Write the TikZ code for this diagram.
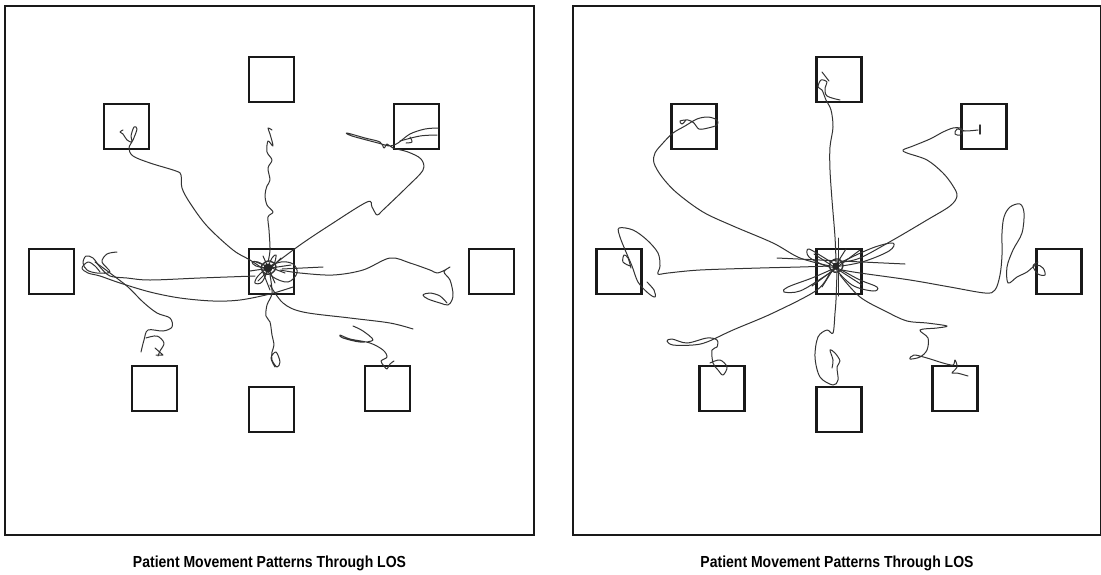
\documentclass[tikz,border=0pt]{standalone}
\usepackage{fontspec}
\setmainfont{Liberation Sans}
\begin{document}
\begin{tikzpicture}[x=1pt,y=-1pt,
  wall/.style={line width=2pt, draw=black!90},
  room/.style={line width=2.2pt, draw=black!90},
  trail/.style={line width=1pt, draw=black!80, line join=round, line cap=round},
  caption/.style={font=\bfseries\fontsize{16}{19}\selectfont, anchor=base}]
\useasboundingbox (0,0) rectangle (1101,574);
\fill[white] (0,0) rectangle (1101,574);

% outer walls of the two floor plans
\draw[wall] (5,6) rectangle (534,535);
\draw[wall] (573,6) rectangle (1100.5,535);

% nine stations per floor plan
\foreach \dx in {0,567.5}{
  \begin{scope}[shift={(\dx,0)}]
    \foreach \p in {(249,57),(104,104),(394,104),(29,249),(249,249),(469,249),(132,366),(249,387),(365,366)}
      \draw[room] \p rectangle +(45,45);
  \end{scope}
}

% ---------------- first floor plan: movement traces ----------------
% to upper-left station
\draw[trail] plot[smooth,tension=0.55] coordinates {(262,268) (250,260) (233,250) (207,226) (190,203) (182,188) (181,175) (176,171) (150,163) (133,156) (129,148) (133,140) (137,129) (134,127) (131,136) (132,142) (127,140) (123,134) (120,132) (123,130)};
% upward, wavering
\draw[trail] plot[smooth,tension=0.55] coordinates {(268,262) (270,250) (269,230) (268,217) (273,212) (267,205) (265,195) (267,186) (270,180) (268,168) (272,160) (267,152) (268,141) (273,146) (270,134) (268,128) (272,130)};
% downward, wavering
\draw[trail] plot[smooth,tension=0.55] coordinates {(270,275) (272,293) (267,305) (266,316) (270,322) (272,335) (274,345) (272,352) (272,360) (277,367) (280,362) (276,352) (271,358) (275,367)};
% to upper-right station
\draw[trail] plot[smooth,tension=0.55] coordinates {(272,266) (300,245) (330,225) (367,202) (372,207) (377,215) (383,210) (407,187) (423,170) (421,159) (408,152) (393,148) (387,144) (384,148) (380,142) (365,138) (347,133) (352,136) (378,143) (390,146) (398,143) (410,134) (425,129) (438,128)};
\draw[trail] plot[smooth,tension=0.55] coordinates {(400,141) (420,136) (437,135)};
\draw[trail] plot[smooth,tension=0.55] coordinates {(410,137) (412,142) (406,143)};
% towards right station
\draw[trail] plot[smooth,tension=0.55] coordinates {(280,270) (300,273) (333,275) (363,270) (390,258) (410,263) (430,270) (437,273) (445,270) (450,267) (444,272) (450,280) (453,293) (452,300) (448,305) (440,303) (428,299) (423,295) (430,293) (440,296) (447,303)};
% long sweep towards lower right
\draw[trail] plot[smooth,tension=0.55] coordinates {(270,285) (283,303) (303,312) (350,318) (390,323) (413,329)};
% to lower-right station
\draw[trail] plot[smooth,tension=0.55] coordinates {(353,326) (363,331) (373,340) (360,342) (343,338) (340,335) (350,339) (370,343) (383,350) (387,357) (381,361) (384,366) (387,369) (390,364) (394,361)};
% towards left station
\draw[trail] plot[smooth,tension=0.55] coordinates {(255,276) (200,278) (150,280) (127,278) (110,276) (100,267) (93,258) (86,256) (83,263) (87,270) (97,273) (110,272) (102,262) (107,254) (117,252)};
\draw[trail] plot[smooth,tension=0.55] coordinates {(293,287) (270,294) (240,300) (213,301) (180,298) (150,292) (120,283) (100,276) (88,273) (82,268) (88,262) (95,266) (100,272)};
% to lower-left station
\draw[trail] plot[smooth,tension=0.55] coordinates {(95,262) (110,273) (128,287) (143,302) (157,313) (170,318) (172,327) (163,331) (148,330) (144,340) (141,352)};
\draw[trail] plot[smooth,tension=0.55] coordinates {(146,338) (157,336) (164,343) (160,351) (158,356)};
\draw[trail] (155,348) -- (163,355) -- (156,355);
% knot at the central station
\draw[trail] (256,262) -- (285,273);
\draw[trail] (258,281) -- (281,258);
\draw[trail] (263,256) -- (275,283);
\draw[trail] (282,269) -- (323,267);
\draw[trail] (250,271) -- (291,265);
\draw[trail] (262,270) -- (270,290);
\draw[trail] plot[smooth cycle,tension=0.6] coordinates {(268,268) (281,262) (293,264) (297,273) (288,282) (273,277)};
\draw[trail] plot[smooth cycle,tension=0.6] coordinates {(268,268) (258,276) (255,283) (262,282)};
\draw[trail] plot[smooth cycle,tension=0.6] coordinates {(268,268) (272,258) (276,255) (274,264)};
\draw[trail] plot[smooth cycle,tension=0.6] coordinates {(268,268) (256,266) (252,262) (258,262)};
\fill[black!85] (268,268) circle (4.5);
\draw[trail, line width=1.4pt] plot[smooth cycle,tension=0.8] coordinates {(262,265) (270,261) (276,267) (270,274) (263,272)};

% ---------------- second floor plan: movement traces ----------------
% to upper-left station
\draw[trail] plot[smooth,tension=0.55] coordinates {(830,266) (800,258) (773,243) (733,226) (703,212) (677,193) (662,177) (654,163) (655,153) (663,143) (673,133) (685,126) (697,119) (708,117) (717,120) (717,125) (708,128) (699,129) (694,123) (688,120) (680,121) (682,124) (686,120)};
% to top station
\draw[trail] plot[smooth,tension=0.55] coordinates {(836,262) (835,237) (832,200) (830,170) (830,147) (833,127) (831,110) (826,100) (822,90) (818,87) (821,80) (827,82) (825,88) (827,96) (840,100)};
\draw[trail] (822,72) -- (829,81);
% to upper-right station
\draw[trail] plot[smooth,tension=0.55] coordinates {(842,262) (860,258) (893,240) (927,220) (950,206) (957,196) (953,186) (943,173) (927,160) (907,153) (903,150) (913,146) (930,139) (943,132) (953,128) (960,128) (963,131) (960,135) (955,134) (957,129) (965,131) (978,130)};
\draw[trail, line width=1.4pt] (980,125) -- (980,134);
% to right station
\draw[trail] plot[smooth,tension=0.55] coordinates {(842,270) (860,273) (910,280) (950,287) (985,293) (995,290) (1000,275) (1002,255) (1002,233) (1004,217) (1010,207) (1020,204) (1024,213) (1022,233) (1013,250) (1007,267) (1008,283) (1017,277) (1027,272) (1036,265) (1043,268) (1045,275) (1038,274) (1033,266) (1038,262)};
% to left station
\draw[trail] plot[smooth,tension=0.55] coordinates {(830,266) (800,267) (760,268) (700,270) (668,273) (658,274) (660,266) (658,253) (647,240) (633,230) (619,228) (620,237) (626,252) (632,266) (638,282) (648,293) (655,297) (654,290) (647,282)};
\draw[trail] plot[smooth,tension=0.55] coordinates {(631,268) (628,258) (624,255) (623,262) (630,266)};
% to lower-left station
\draw[trail] plot[smooth,tension=0.55] coordinates {(830,272) (817,290) (773,313) (733,330) (707,342) (693,345) (673,345) (667,341) (672,339) (687,343) (707,338) (717,340) (717,347) (712,350) (713,363) (718,370) (723,375) (727,367) (720,360) (710,363)};
% towards bottom station
\draw[trail] plot[smooth,tension=0.55] coordinates {(837,272) (836,300) (835,313) (833,333) (827,330) (818,337) (815,357) (820,377) (833,385) (838,380) (837,367) (840,361) (835,353) (830,350) (833,360) (832,368)};
% to lower-right station
\draw[trail] plot[smooth,tension=0.55] coordinates {(840,275) (860,297) (887,312) (907,321) (927,323) (947,326) (937,328) (920,330) (928,338) (927,350) (920,357) (910,359) (914,355) (927,358) (943,363) (953,365) (955,360) (957,367) (952,373) (957,373) (968,376)};
% knot at the central station
\draw[trail] (777,258) -- (905,264);
\draw[trail] (814,254) -- (862,285);
\draw[trail] (860,250) -- (812,286);
\draw[trail] (838,238) -- (838,296);
\draw[trail] (822,287) -- (846,249);
\draw[trail] plot[smooth cycle,tension=0.6] coordinates {(836,266) (852,257) (875,247) (893,243) (889,251) (862,262)};
\draw[trail] plot[smooth cycle,tension=0.6] coordinates {(836,268) (812,278) (788,287) (784,292) (800,291) (822,278)};
\draw[trail] plot[smooth cycle,tension=0.6] coordinates {(836,268) (860,280) (877,287) (873,291) (852,285)};
\draw[trail] plot[smooth cycle,tension=0.6] coordinates {(836,266) (818,254) (808,249) (809,257) (826,266)};
\fill[black!85] (836,266) circle (3.5);
\draw[trail, line width=1.4pt] plot[smooth cycle,tension=0.8] coordinates {(830,263) (838,259) (843,266) (838,272) (831,270)};

% captions
\node[caption] (capL) at (269.5,567) {\scalebox{0.875}[1]{Patient Movement Patterns Through LOS}};
\node[caption] (capR) at (837,567) {\scalebox{0.875}[1]{Patient Movement Patterns Through LOS}};
\end{tikzpicture}
\end{document}
